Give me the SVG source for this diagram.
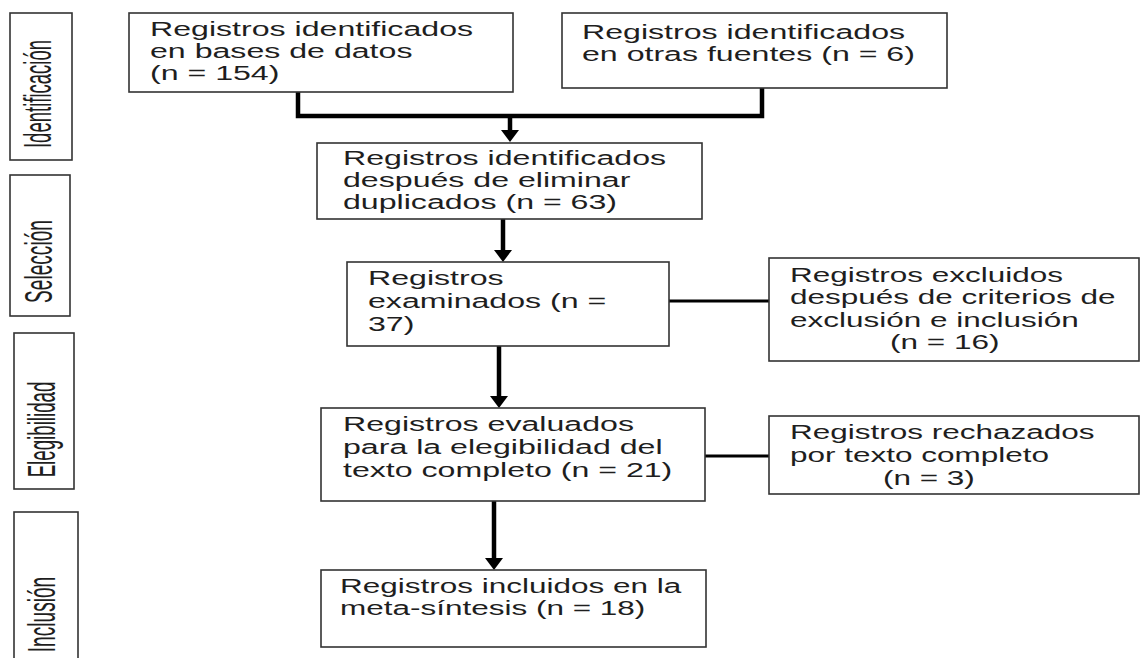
<svg xmlns="http://www.w3.org/2000/svg" width="1141" height="658" viewBox="0 0 1141 658">
<style>
.box{fill:#fff;stroke:#333;stroke-width:1.6}
.t{font-family:"Liberation Sans",Arial,sans-serif;font-size:21px;fill:#1e1e1e}
.side{font-family:"Liberation Sans",Arial,sans-serif;font-size:39px;fill:#1e1e1e;text-anchor:middle}
.thick{fill:none;stroke:#000;stroke-width:4.5}
.thin{fill:none;stroke:#000;stroke-width:3}
</style>
<defs>
<marker id="ah" markerUnits="userSpaceOnUse" viewBox="0 0 12 18" refX="0" refY="9" markerWidth="12" markerHeight="18" orient="auto">
<path d="M0,0 L12,9 L0,18 Z" fill="#000"/>
</marker>
</defs>
<rect width="1141" height="658" fill="#fff"/>
<g id="phase-identificacion">
<rect class="box" x="10" y="13" width="62" height="147"/>
<text class="side" transform="translate(51,94) rotate(-90) scale(0.475,1)">Identificación</text>
</g>
<g id="phase-seleccion">
<rect class="box" x="10" y="175" width="60" height="141"/>
<text class="side" transform="translate(52,261.5) rotate(-90) scale(0.49,1)">Selección</text>
</g>
<g id="phase-elegibilidad">
<rect class="box" x="14" y="333" width="60" height="156"/>
<text class="side" transform="translate(55,429.5) rotate(-90) scale(0.48,1)">Elegibilidad</text>
</g>
<g id="phase-inclusion">
<rect class="box" x="14" y="512" width="64" height="150"/>
<text class="side" transform="translate(55,614.5) rotate(-90) scale(0.49,1)">Inclusión</text>
</g>
<g id="connectors">
<path class="thick" d="M298,92 V116 H762 V88"/>
<line class="thick" x1="510" y1="116" x2="510" y2="130" marker-end="url(#ah)"/>
<line class="thick" x1="503" y1="219" x2="503" y2="250" marker-end="url(#ah)"/>
<line class="thick" x1="499" y1="346" x2="499" y2="396" marker-end="url(#ah)"/>
<line class="thick" x1="494" y1="501" x2="494" y2="558" marker-end="url(#ah)"/>
<line class="thin" x1="669" y1="301" x2="769" y2="301"/>
<line class="thin" x1="705" y1="456" x2="769" y2="456"/>
</g>
<g id="n1">
<rect class="box" x="129" y="13" width="384" height="79"/>
<text class="t" transform="matrix(1.53 0 0 1 150 36)"><tspan x="0" y="0">Registros identificados</tspan><tspan x="0" y="22">en bases de datos</tspan><tspan x="0" y="44">(n = 154)</tspan></text>
</g>
<g id="n2">
<rect class="box" x="562" y="13" width="385" height="75"/>
<text class="t" transform="matrix(1.53 0 0 1 582 39)"><tspan x="0" y="0">Registros identificados</tspan><tspan x="0" y="22">en otras fuentes (n = 6)</tspan></text>
</g>
<g id="n3">
<rect class="box" x="317" y="143" width="385" height="76"/>
<text class="t" transform="matrix(1.53 0 0 1 343 165)"><tspan x="0" y="0">Registros identificados</tspan><tspan x="0" y="22">después de eliminar</tspan><tspan x="0" y="44">duplicados (n = 63)</tspan></text>
</g>
<g id="n4">
<rect class="box" x="347" y="262" width="322" height="84"/>
<text class="t" transform="matrix(1.53 0 0 1 368 285)"><tspan x="0" y="0">Registros</tspan><tspan x="0" y="23">examinados (n =</tspan><tspan x="0" y="46">37)</tspan></text>
</g>
<g id="n5">
<rect class="box" x="769" y="258" width="370" height="103"/>
<text class="t" transform="matrix(1.5 0 0 1 790 282)"><tspan x="0" y="0">Registros excluidos</tspan><tspan x="0" y="22.5">después de criterios de</tspan><tspan x="0" y="45">exclusión e inclusión</tspan><tspan x="66.7" y="67.5">(n = 16)</tspan></text>
</g>
<g id="n6">
<rect class="box" x="321" y="408" width="384" height="93"/>
<text class="t" transform="matrix(1.53 0 0 1 343 431)"><tspan x="0" y="0">Registros evaluados</tspan><tspan x="0" y="23">para la elegibilidad del</tspan><tspan x="0" y="46">texto completo (n = 21)</tspan></text>
</g>
<g id="n7">
<rect class="box" x="769" y="416" width="370" height="78"/>
<text class="t" transform="matrix(1.5 0 0 1 790 439)"><tspan x="0" y="0">Registros rechazados</tspan><tspan x="0" y="23">por texto completo</tspan><tspan x="62" y="46">(n = 3)</tspan></text>
</g>
<g id="n8">
<rect class="box" x="321" y="570" width="385" height="77"/>
<text class="t" transform="matrix(1.5 0 0 1 340 593)"><tspan x="0" y="0">Registros incluidos en la</tspan><tspan x="0" y="22">meta-síntesis (n = 18)</tspan></text>
</g>
</svg>
